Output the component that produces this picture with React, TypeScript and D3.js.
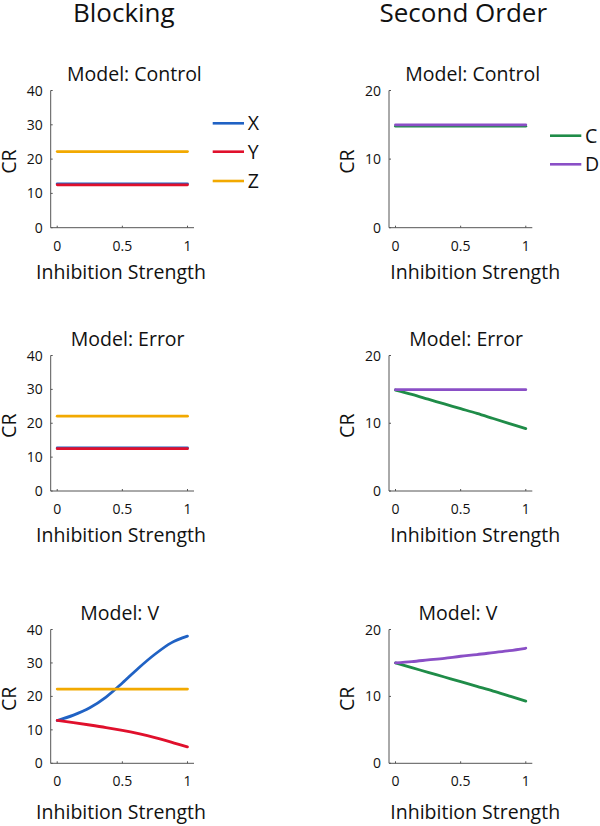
import React from "react";
import * as d3 from "d3";

// ---------- data ----------
const xGrid = [0, 0.125, 0.25, 0.375, 0.5, 0.625, 0.75, 0.875, 1];
const xTicks = [0, 0.5, 1];
const blockingTicks = [0, 10, 20, 30, 40];
const secondOrderTicks = [0, 10, 20];
const columnTitles = ["Blocking", "Second Order"];
const modelTitles = ["Model: Control", "Model: Error", "Model: V"];
const blockingSeries = ["X", "Y", "Z"];
const secondOrderSeries = ["C", "D"];

// Blocking
const ctrlX = [12.8, 12.8, 12.8, 12.8, 12.8, 12.8, 12.8, 12.8, 12.8];
const ctrlY = [12.5, 12.5, 12.5, 12.5, 12.5, 12.5, 12.5, 12.5, 12.5];
const ctrlZ = [22.2, 22.2, 22.2, 22.2, 22.2, 22.2, 22.2, 22.2, 22.2];
const errX = [12.7, 12.7, 12.7, 12.7, 12.7, 12.7, 12.7, 12.7, 12.7];
const errY = [12.5, 12.5, 12.5, 12.5, 12.5, 12.5, 12.5, 12.5, 12.5];
const errZ = [22.1, 22.1, 22.1, 22.1, 22.1, 22.1, 22.1, 22.1, 22.1];
const vX = [12.8, 14.4, 16.6, 19.8, 24.0, 28.5, 32.6, 36.0, 38.0];
const vY = [12.8, 12.15, 11.45, 10.7, 9.85, 8.85, 7.7, 6.35, 4.9];
const vZ = [22.2, 22.2, 22.2, 22.2, 22.2, 22.2, 22.2, 22.2, 22.2];

// Second order
const ctrlC = [14.8, 14.8, 14.8, 14.8, 14.8, 14.8, 14.8, 14.8, 14.8];
const ctrlD = [15.0, 15.0, 15.0, 15.0, 15.0, 15.0, 15.0, 15.0, 15.0];
const errC = [14.9, 14.25, 13.55, 12.85, 12.15, 11.45, 10.7, 9.95, 9.2];
const errD = [14.95, 14.95, 14.95, 14.95, 14.95, 14.95, 14.95, 14.95, 14.95];
const vC = [15.0, 14.3, 13.6, 12.9, 12.2, 11.5, 10.8, 10.05, 9.3];
const vD = [15.0, 15.2, 15.45, 15.7, 16.0, 16.25, 16.55, 16.85, 17.2];

const seriesColors: Record<string, string> = {
  X: "#2062c4",
  Y: "#e0102c",
  Z: "#f2a900",
  C: "#1f8c48",
  D: "#8a4fc6",
};

// ---------- layout ----------
const FONT = "'Open Sans', 'Noto Sans', sans-serif";
const rows = [
  { top: 90.5, bottom: 227.7, xlabBase: 279.3, titleOff: 83.7 },
  { top: 355.5, bottom: 491, xlabBase: 541.7, titleOff: 77 },
  { top: 629.5, bottom: 763.3, xlabBase: 819.3, titleOff: 69 },
];
const cols = [
  { axisX: 50.7, ymax: 40, ticks: blockingTicks, xlabCenter: 121, crX: 16, titleX: 123.8 },
  { axisX: 389, ymax: 20, ticks: secondOrderTicks, xlabCenter: 475.2, crX: 353.8, titleX: 463.3 },
];
const panelData = [
  [
    [ctrlX, ctrlY, ctrlZ],
    [ctrlC, ctrlD],
  ],
  [
    [errX, errY, errZ],
    [errC, errD],
  ],
  [
    [vX, vY, vZ],
    [vC, vD],
  ],
];

function Panel({ r, c }: { r: number; c: number }) {
  const row = rows[r];
  const col = cols[c];
  const x = d3.scaleLinear().domain([-0.05, 1.05]).range([col.axisX, col.axisX + 143.3]);
  const y = d3.scaleLinear().domain([0, col.ymax]).range([row.bottom, row.top]);
  const names = c === 0 ? blockingSeries : secondOrderSeries;
  const data = panelData[r][c];
  const line = d3
    .line<number>()
    .x((_, i) => x(xGrid[i]))
    .y((v) => y(v))
    .curve(d3.curveMonotoneX);
  const axisColor = "#555";
  return (
    <g>
      <text
        x={col.axisX + row.titleOff}
        y={row.top - 9.5}
        textAnchor="middle"
        fontSize={19.5}
        fontFamily={FONT}
        fill="#111"
      >
        {modelTitles[r]}
      </text>
      <line x1={col.axisX} x2={col.axisX} y1={y(col.ymax)} y2={y(0)} stroke={axisColor} strokeWidth={1} />
      <line x1={x(-0.05)} x2={x(1.05)} y1={y(0)} y2={y(0)} stroke={axisColor} strokeWidth={1} />
      {xTicks.map((t) => (
        <g key={"xt" + t}>
          <line x1={x(t)} x2={x(t)} y1={y(0)} y2={y(0) - 2} stroke={axisColor} strokeWidth={1} />
          <text x={x(t)} y={y(0) + 23} textAnchor="middle" fontSize={14} fontFamily={FONT} fill="#111">
            {t}
          </text>
        </g>
      ))}
      {col.ticks.map((t) => (
        <g key={"yt" + t}>
          <line x1={col.axisX} x2={col.axisX + 2} y1={y(t)} y2={y(t)} stroke={axisColor} strokeWidth={1} />
          <text x={col.axisX - 8} y={y(t) + 5} textAnchor="end" fontSize={14} fontFamily={FONT} fill="#111">
            {t}
          </text>
        </g>
      ))}
      <text
        transform={`translate(${col.crX},${(row.top + row.bottom) / 2 + 2.5}) rotate(-90)`}
        textAnchor="middle"
        fontSize={19.5}
        fontFamily={FONT}
        fill="#111"
      >
        CR
      </text>
      <text x={col.xlabCenter} y={row.xlabBase} textAnchor="middle" fontSize={19.5} fontFamily={FONT} fill="#111">
        Inhibition Strength
      </text>
      {data.map((vals, i) => (
        <path
          key={names[i]}
          d={line(vals) || ""}
          fill="none"
          stroke={seriesColors[names[i]]}
          strokeWidth={2.8}
          strokeLinecap="round"
        />
      ))}
    </g>
  );
}

function Legend({ names, x0, ys }: { names: string[]; x0: number; ys: number[] }) {
  return (
    <g>
      {names.map((n, i) => (
        <g key={n}>
          <line x1={x0} x2={x0 + 31.3} y1={ys[i]} y2={ys[i]} stroke={seriesColors[n]} strokeWidth={2.6} />
          <text x={x0 + 35} y={ys[i] + 7} fontSize={19.5} fontFamily={FONT} fill="#111">
            {n}
          </text>
        </g>
      ))}
    </g>
  );
}

export default function App() {
  return (
    <svg
      width={600}
      height={826}
      viewBox="0 0 600 826"
      style={{ position: "absolute", left: 0, top: 0, background: "#fff" }}
    >
      <rect x={0} y={0} width={600} height={826} fill="#fff" />
      {columnTitles.map((t, c) => (
        <text key={t} x={cols[c].titleX} y={22} textAnchor="middle" fontSize={26} fontFamily={FONT} fill="#111">
          {t}
        </text>
      ))}
      {rows.map((_, r) => cols.map((__, c) => <Panel key={r + "-" + c} r={r} c={c} />))}
      <Legend names={blockingSeries} x0={212.7} ys={[123.3, 151.7, 181]} />
      <Legend names={secondOrderSeries} x0={550} ys={[135.7, 164.3]} />
    </svg>
  );
}
